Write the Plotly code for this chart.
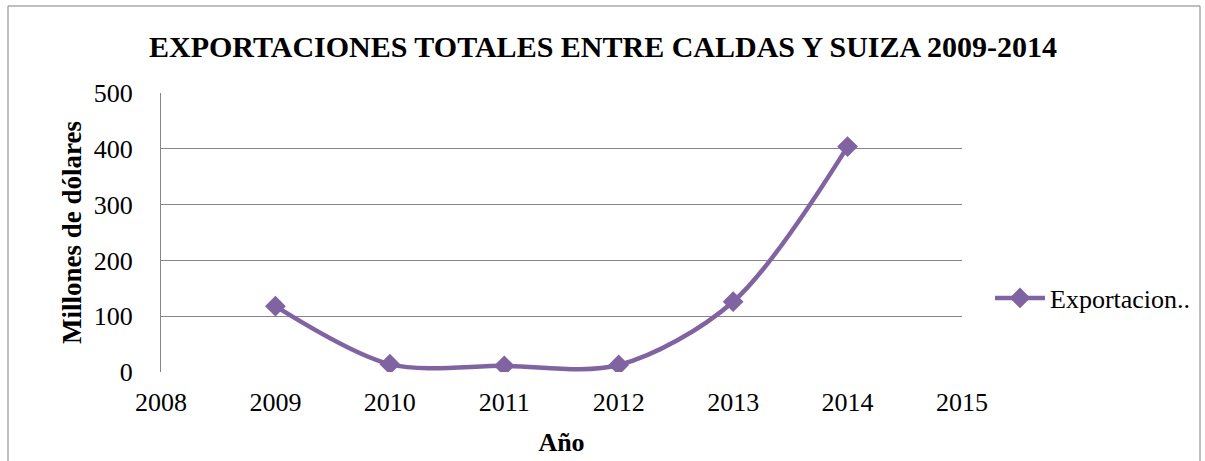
import plotly.graph_objects as go

years = [2009, 2010, 2011, 2012, 2013, 2014]
exportaciones = [118, 14, 11, 12.5, 126, 404]
series_name = "Exportacion.."
title_text = "EXPORTACIONES TOTALES ENTRE CALDAS Y SUIZA 2009-2014"
x_title = "Año"
y_title = "Millones de dólares"

FONT = "Liberation Serif"
PURPLE = "#8064A2"
GRID = "#868686"

fig = go.Figure()
fig.add_trace(go.Scatter(
    x=years, y=exportaciones, name=series_name,
    mode="lines+markers",
    line=dict(color=PURPLE, width=4.5, shape="spline", smoothing=0.9),
    marker=dict(symbol="diamond", size=16, color=PURPLE),
))

W, H = 1205, 461
L, R, T, B = 161, 243, 93, 89
pw, ph = W - L - R, H - T - B

def px2paper_x(px):
    return (px - L) / pw

def px2paper_y(py):
    return (H - B - py) / ph

fig.update_layout(
    width=W, height=H,
    margin=dict(l=L, r=R, t=T, b=B, autoexpand=False),
    paper_bgcolor="white", plot_bgcolor="white",
    font=dict(family=FONT, size=26, color="black"),
    title=dict(text="<b>" + title_text + "</b>", x=603 / W,
               xanchor="center", xref="container",
               y=1 - 46 / H, yanchor="middle", yref="container",
               font=dict(family=FONT, size=30, color="black")),
    xaxis=dict(range=[2008, 2015], dtick=1, tick0=2008, showgrid=False,
               showline=False, zeroline=False, ticks="",
               ticklabelstandoff=12,
               tickfont=dict(family=FONT, size=26),
               title=dict(text="<b>" + x_title + "</b>", standoff=16,
                          font=dict(family=FONT, size=26))),
    yaxis=dict(range=[0, 500], dtick=100, showgrid=True, gridcolor=GRID,
               gridwidth=1, showline=True, linecolor=GRID, linewidth=1,
               zeroline=False, ticks="", ticklen=0,
               ticklabelstandoff=22,
               tickfont=dict(family=FONT, size=26),
               title=dict(text="<b>" + y_title + "</b>", standoff=4,
                          font=dict(family=FONT, size=27))),
    legend=dict(x=px2paper_x(990), xanchor="left", y=px2paper_y(298),
                yanchor="middle", font=dict(family=FONT, size=26),
                itemwidth=50, bgcolor="rgba(0,0,0,0)"),
    showlegend=True,
)

fig.add_shape(type="rect", xref="paper", yref="paper",
              x0=px2paper_x(8), x1=px2paper_x(1200),
              y0=px2paper_y(470), y1=px2paper_y(6),
              line=dict(color="#808080", width=1), fillcolor="rgba(0,0,0,0)",
              layer="below")

fig.write_html("out.html", config={"displayModeBar": False},
               post_script="document.body.style.margin='0';")
